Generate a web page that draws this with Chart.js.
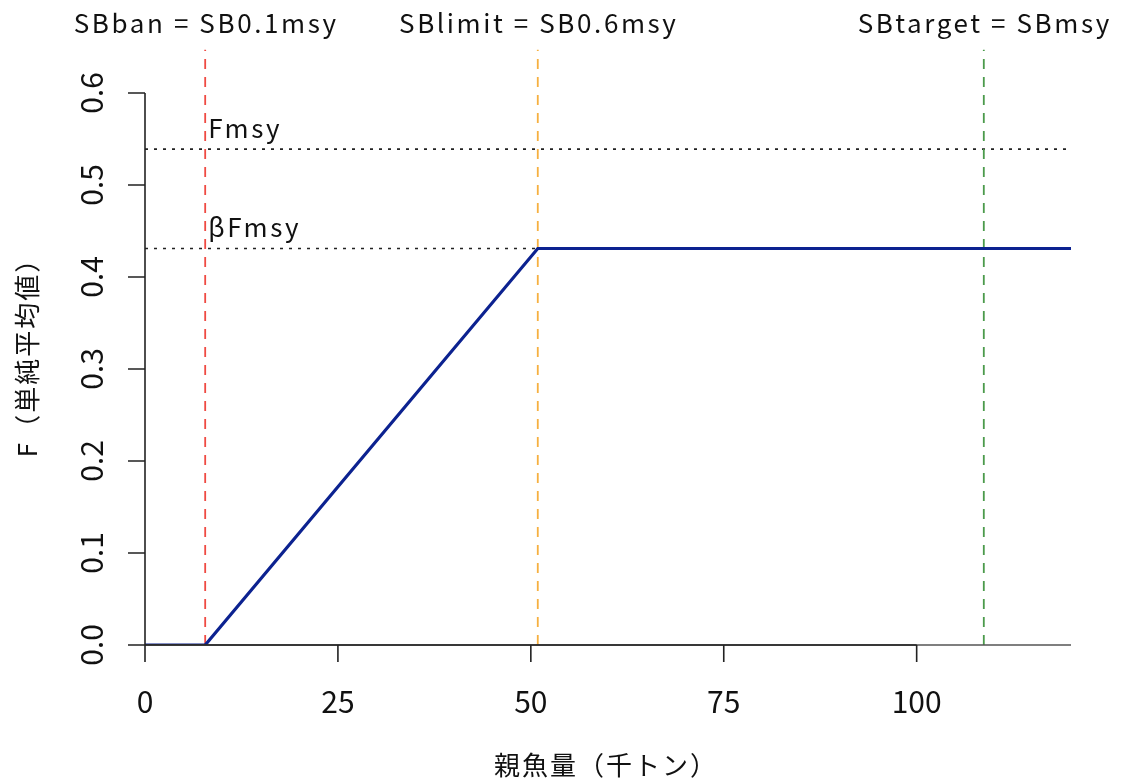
<!DOCTYPE html>
<html>
<head>
<meta charset="utf-8">
<script src="https://cdn.jsdelivr.net/npm/chart.js@4/dist/chart.umd.min.js"></script>
<style>
  html, body { margin: 0; padding: 0; background: #fff; }
  #wrap { width: 1121px; height: 783px; }
</style>
</head>
<body>
<div id="wrap"><canvas id="hcr"></canvas></div>
<script>
// 漁獲管理規則 (HCR): 親魚量に対する F
var hcrX = [0, 7.8, 50.9, 120];
var hcrY = [0, 0, 0.431, 0.431];

// 管理基準値 (親魚量, 千トン)
var refNames  = ['SBban = SB0.1msy', 'SBlimit = SB0.6msy', 'SBtarget = SBmsy'];
var refValues = [7.8, 50.9, 108.7];
var refColors = ['#ef4a42', '#f6b040', '#4b9a4b'];
var refTop = 0.647;   // 縦線の上端（プロット領域の外まで延ばす）

// F の基準値
var fNames  = ['Fmsy', 'βFmsy'];
var fValues = [0.539, 0.431];

var xTicks = [0, 25, 50, 75, 100];
var yTicks = [0, 0.1, 0.2, 0.3, 0.4, 0.5, 0.6];
var xMax = 120;

var xTitle = '親魚量（千トン）';
var yTitle = 'F（単純平均値）';

var FONT = '"Noto Sans CJK JP", "Noto Sans", sans-serif';

var datasets = [];

fValues.forEach(function(v){
    datasets.push({
        data: [{x: 0, y: v}, {x: xMax, y: v}],
        borderColor: '#222',
        borderWidth: 1.6,
        borderDash: [3, 6],
        pointRadius: 0,
        order: 3
    });
});

refValues.forEach(function(v, i){
    datasets.push({
        data: [{x: v, y: 0}, {x: v, y: refTop}],
        borderColor: refColors[i],
        borderWidth: 1.8,
        borderDash: [10, 8],
        pointRadius: 0,
        clip: false,
        order: 2
    });
});

datasets.push({
    data: hcrX.map(function(x, i){ return {x: x, y: hcrY[i]}; }),
    borderColor: '#0c2290',
    borderWidth: 3.2,
    pointRadius: 0,
    tension: 0,
    order: 1
});

// R 風の軸・目盛・ラベル
var baseAxes = {
    id: 'baseAxes',
    afterDatasetsDraw: function(chart){
        var ctx = chart.ctx, xs = chart.scales.x, ys = chart.scales.y;
        var x0 = xs.getPixelForValue(0), y0 = ys.getPixelForValue(0);
        ctx.save();
        ctx.lineCap = 'butt';

        // y = 0 の横線
        ctx.strokeStyle = '#555';
        ctx.lineWidth = 1.6;
        ctx.beginPath();
        ctx.moveTo(x0, y0);
        ctx.lineTo(xs.getPixelForValue(xMax), y0);
        ctx.stroke();

        ctx.strokeStyle = '#222';
        ctx.lineWidth = 1.6;

        // x 軸
        ctx.beginPath();
        ctx.moveTo(xs.getPixelForValue(xTicks[0]), y0);
        ctx.lineTo(xs.getPixelForValue(xTicks[xTicks.length - 1]), y0);
        xTicks.forEach(function(t){
            var px = xs.getPixelForValue(t);
            ctx.moveTo(px, y0);
            ctx.lineTo(px, y0 + 17);
        });
        ctx.stroke();

        // y 軸
        ctx.beginPath();
        ctx.moveTo(x0, ys.getPixelForValue(yTicks[0]));
        ctx.lineTo(x0, ys.getPixelForValue(yTicks[yTicks.length - 1]));
        yTicks.forEach(function(t){
            var py = ys.getPixelForValue(t);
            ctx.moveTo(x0, py);
            ctx.lineTo(x0 - 17, py);
        });
        ctx.stroke();

        ctx.fillStyle = '#111';
        ctx.font = '30px ' + FONT;
        ctx.textAlign = 'center';
        ctx.textBaseline = 'middle';
        xTicks.forEach(function(t){
            ctx.fillText(String(t), xs.getPixelForValue(t), y0 + 57);
        });
        yTicks.forEach(function(t){
            ctx.save();
            ctx.translate(x0 - 53, ys.getPixelForValue(t));
            ctx.rotate(-Math.PI / 2);
            ctx.fillText(t.toFixed(1), 0, 0);
            ctx.restore();
        });

        // 軸タイトル
        ctx.font = '26px ' + FONT;
        ctx.letterSpacing = '2px';
        ctx.fillText(xTitle, 606, 765);
        ctx.save();
        ctx.translate(27, 351);
        ctx.rotate(-Math.PI / 2);
        ctx.fillText(yTitle, 0, 0);
        ctx.restore();

        // 管理基準値のラベル
        ctx.font = '26px ' + FONT;
        ctx.letterSpacing = '2.6px';
        ctx.textBaseline = 'alphabetic';
        refNames.forEach(function(n, i){
            ctx.fillText(n, xs.getPixelForValue(refValues[i]) + 1, 33);
        });

        ctx.textAlign = 'left';
        fNames.forEach(function(n, i){
            ctx.fillText(n, xs.getPixelForValue(refValues[0]) + 3, ys.getPixelForValue(fValues[i]) - 11);
        });
        ctx.restore();
    }
};

new Chart(document.getElementById('hcr'), {
    type: 'line',
    data: { datasets: datasets },
    options: {
        responsive: true,
        maintainAspectRatio: false,
        animation: false,
        layout: { padding: { left: 145, right: 50, top: 93, bottom: 138 } },
        plugins: { legend: { display: false }, tooltip: { enabled: false } },
        scales: {
            x: { type: 'linear', min: 0, max: xMax, display: false },
            y: { type: 'linear', min: 0, max: 0.6, display: false }
        }
    },
    plugins: [baseAxes]
});
</script>
</body>
</html>
